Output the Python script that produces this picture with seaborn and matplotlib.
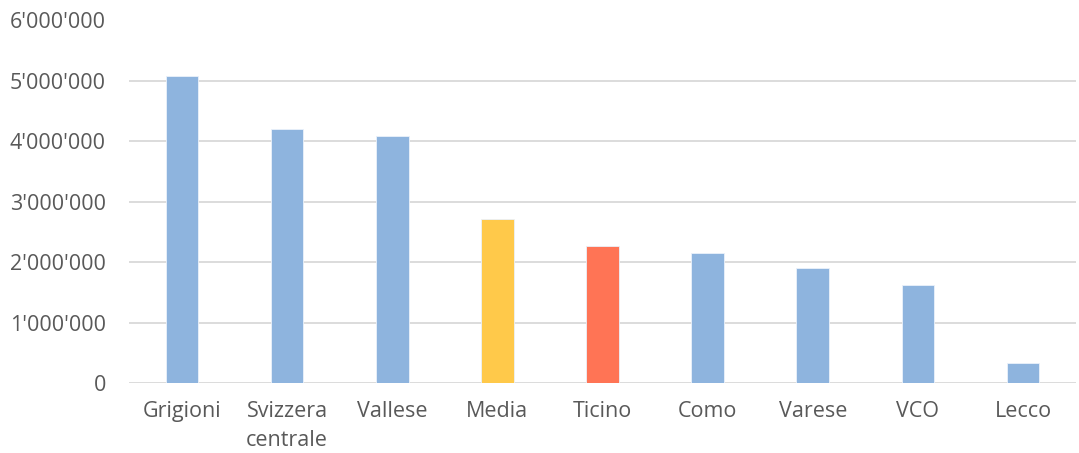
import matplotlib
matplotlib.use("Agg")
import matplotlib.pyplot as plt
import matplotlib.ticker as mticker
import seaborn as sns
import pandas as pd

regions = ["Grigioni", "Svizzera\ncentrale", "Vallese", "Media", "Ticino",
           "Como", "Varese", "VCO", "Lecco"]
values = [5080000, 4210000, 4090000, 2720000, 2270000,
          2155000, 1900000, 1630000, 330000]
bar_colors = ["#8EB4DE", "#8EB4DE", "#8EB4DE", "#FFC94A", "#FF7455",
              "#8EB4DE", "#8EB4DE", "#8EB4DE", "#8EB4DE"]
y_ticks = [0, 1000000, 2000000, 3000000, 4000000, 5000000, 6000000]

df = pd.DataFrame({"region": regions, "value": values})

sns.set_theme(style="white")
plt.rcParams["font.family"] = ["Open Sans", "DejaVu Sans"]

fig = plt.figure(figsize=(10.79, 4.53), dpi=100)
ax = fig.add_axes([129.4 / 1079, 1 - 383.3 / 453, (1075.6 - 129.4) / 1079, (383.3 - 20.5) / 453])

sns.barplot(data=df, x="region", y="value", hue="region",
            palette=dict(zip(regions, bar_colors)), legend=False, saturation=1,
            width=0.31, ax=ax, edgecolor="#EAF1FA", linewidth=0.6, zorder=3)

ax.set_ylim(0, 6000000)
ax.set_xlim(-0.5, len(regions) - 0.5)
ax.set_yticks(y_ticks)
ax.yaxis.set_major_formatter(
    mticker.FuncFormatter(lambda v, _: f"{int(v):,}".replace(",", "'")))
ax.grid(axis="y", color="#D9D9D9", linewidth=1.3, zorder=0)
ax.grid(axis="x", visible=False)
for s in ax.spines.values():
    s.set_visible(False)
ax.set_xlabel("")
ax.set_ylabel("")
ax.tick_params(axis="y", length=0, pad=17, labelsize=15.5, labelcolor="#595959")
ax.tick_params(axis="x", length=0, pad=13, labelsize=15.5, labelcolor="#595959")
for lbl in ax.get_xticklabels():
    lbl.set_linespacing(1.45)

fig.savefig("out.png", dpi=100, facecolor="white")
